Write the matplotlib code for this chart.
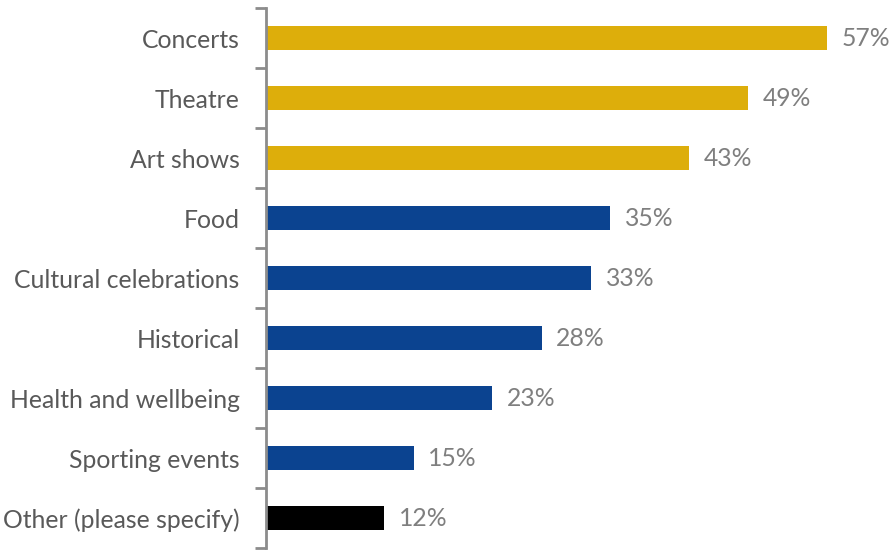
import matplotlib
matplotlib.use("Agg")
import matplotlib.pyplot as plt

categories = ["Concerts", "Theatre", "Art shows", "Food", "Cultural celebrations",
              "Historical", "Health and wellbeing", "Sporting events", "Other (please specify)"]
values = [57, 49, 43, 35, 33, 28, 23, 15, 12]
colors = ["#DDAE0B"] * 3 + ["#0B4390"] * 5 + ["#000000"]

plt.rcParams["font.family"] = ["Lato", "DejaVu Sans"]

fig = plt.figure(figsize=(8.91, 5.5), dpi=100)
ax = fig.add_axes([266 / 891, 2 / 550, 614 / 891, 540 / 550])

n = len(categories)
ypos = list(range(n))
ax.barh(ypos, values, height=0.4, color=colors, zorder=2)
ax.set_ylim(n - 0.5, -0.5)
ax.set_xlim(0, 62.4)

for y, v in zip(ypos, values):
    ax.text(v + 1.5, y, f"{v}%", va="center", ha="left", fontsize=17.8, color="#7F7F7F")

ax.set_yticks([i - 0.5 for i in range(n + 1)], minor=False)
ax.set_yticklabels([])
ax.set_yticks(ypos, minor=True)
ax.set_yticklabels(categories, minor=True, fontsize=17.8, color="#595959")
ax.tick_params(axis="y", which="major", length=8, width=2, color="#8C8C8C", direction="out")
ax.tick_params(axis="y", which="minor", length=0, pad=19)
ax.set_xticks([])

for s in ["top", "right", "bottom"]:
    ax.spines[s].set_visible(False)
ax.spines["left"].set_color("#8C8C8C")
ax.spines["left"].set_linewidth(2)

fig.savefig("out.png", dpi=100)
